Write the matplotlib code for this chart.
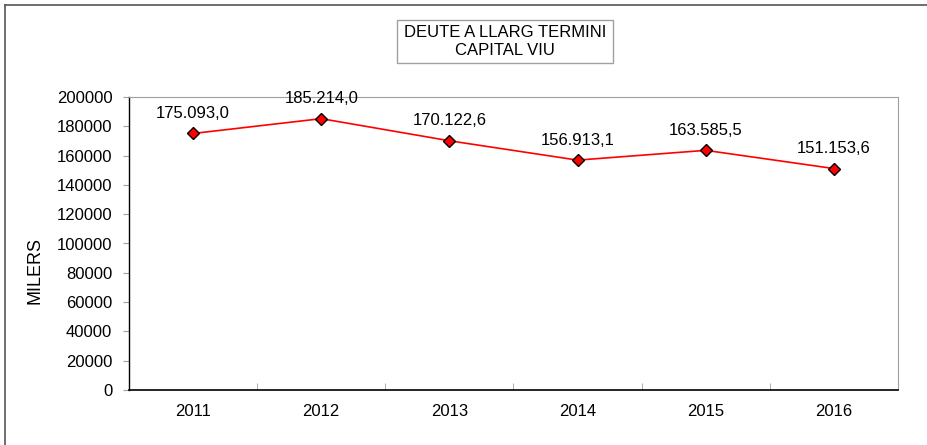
import matplotlib
matplotlib.use("Agg")
import matplotlib.pyplot as plt
from matplotlib.lines import Line2D
from matplotlib.patches import Rectangle

years = ["2011", "2012", "2013", "2014", "2015", "2016"]
values = [175093.0, 185214.0, 170122.6, 156913.1, 163585.5, 151153.6]
yticks = [0, 20000, 40000, 60000, 80000, 100000, 120000, 140000, 160000, 180000, 200000]

plt.rcParams['font.family'] = ['Liberation Sans', 'DejaVu Sans']

W, H = 928, 445
fig = plt.figure(figsize=(W / 100, H / 100), dpi=100)
ax = fig.add_axes([129 / W, 1 - 390 / H, (898 - 129) / W, (390 - 97) / H])

x = list(range(len(years)))
ax.plot(x, values, color='#ff0000', lw=1.2, marker='D', markersize=6.5,
        markerfacecolor='#ff0000', markeredgecolor='black', markeredgewidth=1.0, zorder=3)

def fmt(v):
    s = f"{v:,.1f}"
    return s.replace(",", "X").replace(".", ",").replace("X", ".")

for xi, v in zip(x, values):
    ax.annotate(fmt(v), (xi, v), xytext=(0, 9), textcoords='offset points',
                ha='center', va='bottom', fontsize=12, color='black')

ax.set_xlim(-0.5, len(years) - 0.5)
ax.set_ylim(0, 200000)
ax.set_yticks(yticks)
ax.set_yticklabels([str(t) for t in yticks], fontsize=12)
ax.set_xticks(x)
ax.set_xticklabels(years, fontsize=12)
ax.set_xticks([i + 0.5 for i in range(len(years) - 1)], minor=True)
ax.tick_params(axis='x', which='major', length=0, pad=10)
ax.tick_params(axis='x', which='minor', length=5, direction='in', color='#a0a0a0')
ax.tick_params(axis='y', length=4, direction='out', color='#a0a0a0', pad=8)

ax.spines['left'].set_color('black')
ax.spines['bottom'].set_color('black')
ax.spines['left'].set_linewidth(1.0)
ax.spines['bottom'].set_linewidth(1.2)
ax.spines['top'].set_color('#a0a0a0')
ax.spines['right'].set_color('#a0a0a0')

fig.text(35 / W, 1 - 270 / H, "MILERS", rotation=90, ha='center', va='center', fontsize=13)

# title box
fig.patches.append(Rectangle((397 / W, 1 - 63 / H), (613 - 397) / W, (63 - 20) / H,
                             transform=fig.transFigure, fill=False, edgecolor='#a0a0a0', lw=1.0))
fig.text(505 / W, 1 - 41.5 / H, "DEUTE A LLARG TERMINI\nCAPITAL VIU", ha='center', va='center',
         fontsize=12, linespacing=1.25)

# outer frame (left and top)
fig.add_artist(Line2D([5.5 / W, 5.5 / W], [0, 1 - 4.5 / H], transform=fig.transFigure, color='#555555', lw=1.2))
fig.add_artist(Line2D([5.5 / W, 1], [1 - 4.5 / H, 1 - 4.5 / H], transform=fig.transFigure, color='#555555', lw=1.2))

fig.savefig("out.png", dpi=100)
